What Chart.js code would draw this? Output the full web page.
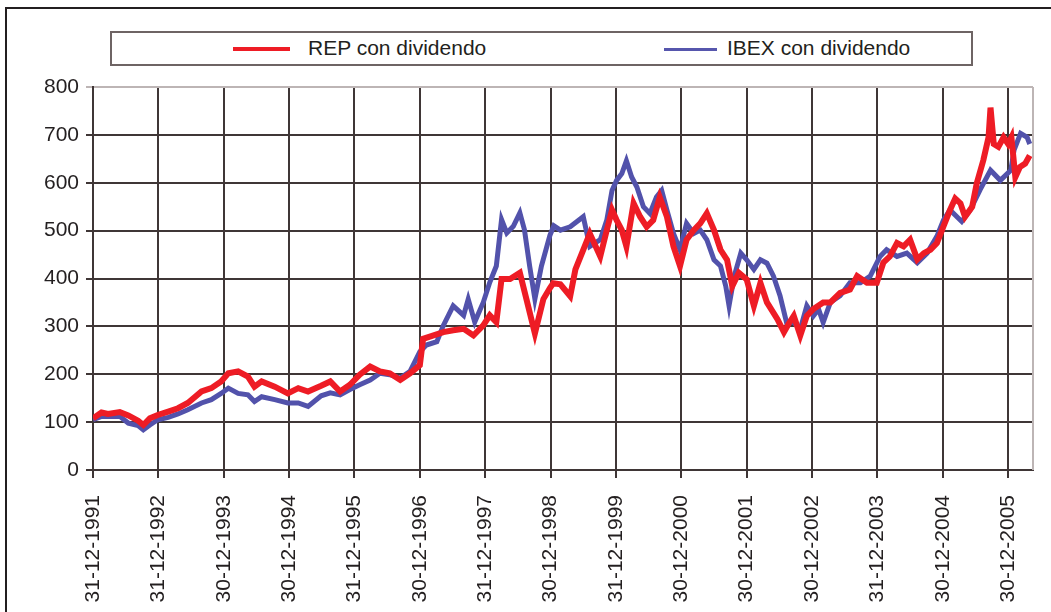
<!DOCTYPE html>
<html>
<head>
<meta charset="utf-8">
<script src="https://cdn.jsdelivr.net/npm/chart.js@4/dist/chart.umd.min.js"></script>
<style>
  html, body { margin: 0; padding: 0; background: #fff; }
  body { width: 1051px; height: 612px; position: relative; overflow: hidden; font-family: "Liberation Sans", Arial, sans-serif; }
  #frame { position: absolute; left: 5px; top: 7px; width: 1100px; height: 700px; border-left: 2px solid #231f20; border-top: 2px solid #231f20; }
  #legend { position: absolute; left: 110px; top: 31px; width: 859px; height: 31px; border: 2px solid #6e6464; background: #fff; }
  .sw { position: absolute; height: 4px; top: 14px; }
  .lt { position: absolute; top: 3px; font-size: 21px; color: #231f20; white-space: nowrap; }
  canvas { position: absolute; left: 0; top: 0; }
</style>
</head>
<body>
<div id="frame"></div>
<canvas id="c" width="1051" height="612"></canvas>
<div id="legend">
  <div class="sw" style="left:121px;width:57px;background:#ee1c25;"></div>
  <div class="lt" style="left:196px;">REP con dividendo</div>
  <div class="sw" style="left:552px;width:53px;background:#5656ad;height:3px;top:15px;"></div>
  <div class="lt" style="left:615px;">IBEX con dividendo</div>
</div>
<script>
// x: years elapsed since 31-12-1991
const tickLabels = ["31-12-1991","31-12-1992","30-12-1993","30-12-1994","31-12-1995","30-12-1996","31-12-1997","30-12-1998","31-12-1999","30-12-2000","30-12-2001","30-12-2002","31-12-2003","30-12-2004","30-12-2005"];
const yTicks = [0,100,200,300,400,500,600,700,800];

const repT = [0,0.13,0.23,0.41,0.54,0.69,0.77,0.87,0.99,1.15,1.30,1.45,1.66,1.81,1.96,2.07,2.22,2.37,2.47,2.58,2.78,2.98,3.14,3.29,3.49,3.63,3.78,3.93,4.08,4.24,4.39,4.54,4.70,4.85,5.00,5.05,5.21,5.36,5.51,5.67,5.82,5.97,6.07,6.17,6.25,6.38,6.53,6.63,6.76,6.89,6.99,7.04,7.15,7.30,7.38,7.50,7.60,7.76,7.86,7.94,8.01,8.09,8.16,8.27,8.37,8.47,8.57,8.67,8.78,8.88,8.98,9.08,9.19,9.29,9.39,9.50,9.60,9.70,9.78,9.88,10.00,10.11,10.21,10.31,10.47,10.57,10.64,10.72,10.82,10.92,11.02,11.17,11.28,11.43,11.58,11.69,11.84,11.99,12.09,12.19,12.30,12.40,12.50,12.61,12.71,12.81,12.91,13.01,13.11,13.19,13.27,13.34,13.45,13.52,13.62,13.70,13.73,13.78,13.85,13.93,14.00,14.05,14.11,14.18,14.26,14.33];
const repV = [108,120,117,121,114,103,94,108,115,122,129,140,164,171,185,202,206,195,174,185,174,160,171,164,176,185,164,178,199,216,206,202,188,202,219,274,281,288,292,295,281,302,323,309,399,399,412,357,285,357,380,390,388,363,419,460,494,446,501,543,522,501,467,557,529,508,522,570,529,467,426,481,501,515,536,501,460,439,384,412,398,343,391,350,315,288,305,322,281,322,336,350,350,370,377,405,391,391,433,446,474,467,481,440,453,460,474,509,543,567,557,529,550,599,647,695,757,681,675,695,681,695,612,633,640,657];

const ibexT = [0,0.13,0.23,0.41,0.54,0.69,0.77,0.87,0.99,1.15,1.30,1.45,1.66,1.81,1.96,2.07,2.22,2.37,2.47,2.58,2.78,2.98,3.14,3.29,3.49,3.63,3.78,3.93,4.08,4.24,4.39,4.54,4.70,4.85,5.00,5.10,5.26,5.36,5.51,5.67,5.74,5.84,5.97,6.07,6.17,6.25,6.33,6.43,6.53,6.60,6.68,6.76,6.86,6.99,7.05,7.15,7.30,7.50,7.60,7.76,7.86,7.94,8.01,8.09,8.16,8.24,8.32,8.42,8.52,8.62,8.70,8.78,8.88,8.98,9.08,9.19,9.29,9.39,9.50,9.60,9.68,9.73,9.81,9.91,10.00,10.11,10.21,10.31,10.41,10.51,10.61,10.72,10.82,10.92,11.02,11.10,11.17,11.28,11.43,11.58,11.74,11.89,12.04,12.14,12.30,12.45,12.61,12.76,12.91,13.01,13.11,13.29,13.42,13.57,13.73,13.88,14.04,14.09,14.19,14.29,14.33];
const ibexV = [105,112,112,112,98,93,84,94,105,110,117,126,140,147,160,171,160,157,143,153,147,140,140,133,155,161,157,168,178,188,202,199,192,206,247,261,268,302,343,323,357,309,350,392,426,523,495,509,537,502,426,357,426,490,510,501,508,529,467,481,522,584,605,619,646,612,591,550,536,570,584,543,494,460,515,494,501,481,439,426,384,343,405,453,439,419,439,432,405,364,308,308,294,343,322,336,308,350,364,391,391,405,446,460,446,453,433,453,488,522,543,519,543,585,626,605,626,668,703,695,681];

const toPts = (ts, vs) => ts.map((t, i) => ({ x: t, y: vs[i] }));

const frameEdge = {
  id: 'frameEdge',
  afterDatasetsDraw(chart) {
    const { ctx, chartArea: a } = chart;
    ctx.save();
    ctx.strokeStyle = '#bdb5b5';
    ctx.lineWidth = 2;
    ctx.beginPath();
    ctx.moveTo(a.right, a.top);
    ctx.lineTo(a.right, a.bottom);
    ctx.stroke();
    ctx.restore();
  }
};

const gridDark = '#3f3636';
new Chart(document.getElementById('c'), {
  type: 'line',
  data: {
    datasets: [
      { label: 'REP con dividendo', data: toPts(repT, repV), borderColor: '#ee1c25', borderWidth: 6, pointRadius: 0, tension: 0, fill: false },
      { label: 'IBEX con dividendo', data: toPts(ibexT, ibexV), borderColor: '#5252ab', borderWidth: 5, pointRadius: 0, tension: 0, fill: false }
    ]
  },
  options: {
    responsive: false,
    animation: false,
    layout: { padding: { left: 0, right: 18, top: 87, bottom: 0 } },
    plugins: { legend: { display: false }, tooltip: { enabled: false } },
    scales: {
      x: {
        type: 'linear',
        min: 0,
        max: 14.38,
        afterFit(s) { s.height = 142; },
        afterBuildTicks(s) { s.ticks = tickLabels.map((_, i) => ({ value: i })); },
        ticks: {
          autoSkip: false,
          maxRotation: 90,
          minRotation: 90,
          padding: 17,
          color: '#231f20',
          font: { family: 'Liberation Sans', size: 21 },
          callback: (v) => tickLabels[v] ?? ''
        },
        grid: { color: gridDark, lineWidth: 2, tickLength: 8, tickColor: gridDark },
        border: { color: gridDark, width: 2 }
      },
      y: {
        min: 0,
        max: 800,
        afterFit(s) { s.width = 93; },
        afterBuildTicks(s) { s.ticks = yTicks.map(v => ({ value: v })); },
        ticks: {
          padding: 7,
          color: '#231f20',
          font: { family: 'Liberation Sans', size: 21 }
        },
        grid: {
          color: (c) => (c.tick && c.tick.value === 800 ? '#bdb5b5' : gridDark),
          tickColor: (c) => (c.tick && c.tick.value === 800 ? '#bdb5b5' : gridDark),
          lineWidth: 2,
          tickLength: 7
        },
        border: { color: gridDark, width: 2 }
      }
    }
  },
  plugins: [frameEdge]
});
</script>
</body>
</html>
